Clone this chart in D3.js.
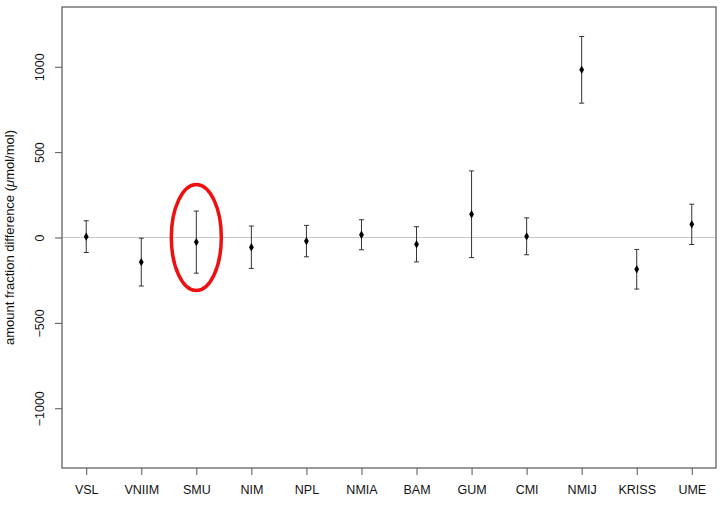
<!DOCTYPE html>
<html><head><meta charset="utf-8">
<script src="https://cdn.jsdelivr.net/npm/d3@7"></script>
<style>body{margin:0;background:#fff;}svg{display:block;font-family:"Liberation Sans",Arial,Helvetica,sans-serif;}</style>
</head><body><div id="chart"></div>
<script>
const labs = ["VSL","VNIIM","SMU","NIM","NPL","NMIA","BAM","GUM","CMI","NMIJ","KRISS","UME"];
const values = [5, -144, -27, -57, -21, 16, -40, 136, 7, 982, -186, 77];
const uncert = [93, 140, 182, 124, 92, 88, 103, 254, 108, 195, 116, 118];
const yTicks = [-1000, -500, 0, 500, 1000];
const highlight = "SMU";

const W = 723, H = 511;
const m = {left: 62, right: 7, top: 7, bottom: 43};
const svg = d3.select("#chart").append("svg").attr("width", W).attr("height", H);

const x = d3.scaleLinear().domain([0.56, 12.44]).range([m.left, W - m.right]);
const y = d3.scaleLinear().domain([-1350, 1350]).range([H - m.bottom, m.top]);

// zero reference line
svg.append("line").attr("x1", x(0.56)).attr("x2", x(12.44)).attr("y1", y(0)).attr("y2", y(0))
  .attr("stroke", "#c8c8c8").attr("stroke-width", 1.2);

// box
svg.append("rect").attr("x", m.left).attr("y", m.top)
  .attr("width", W - m.right - m.left).attr("height", H - m.bottom - m.top)
  .attr("fill", "none").attr("stroke", "#555").attr("stroke-width", 1.2);

// y axis
const yAxis = d3.axisLeft(y).tickValues(yTicks).tickSize(7).tickPadding(0).tickFormat(d => d < 0 ? "\u2212" + Math.abs(d) : d);
const gy = svg.append("g").attr("transform", `translate(${m.left},0)`).call(yAxis);
gy.select(".domain").remove();
gy.selectAll(".tick line").attr("stroke", "#555");
gy.selectAll(".tick text").attr("x", 0).attr("y", 0)
  .attr("transform", "translate(-22,0) rotate(-90)")
  .attr("text-anchor", "middle").attr("dy", "0.35em")
  .attr("font-size", 12.5).attr("fill", "#111").attr("font-family", "Liberation Sans, Arial, sans-serif");

// x axis
const xAxis = d3.axisBottom(x).tickValues(d3.range(1, labs.length + 1)).tickSize(7).tickPadding(10)
  .tickFormat(d => labs[d - 1]);
const gx = svg.append("g").attr("transform", `translate(0,${H - m.bottom})`).call(xAxis);
gx.select(".domain").remove();
gx.selectAll(".tick line").attr("stroke", "#555");
gx.selectAll(".tick text").attr("font-size", 12.5).attr("fill", "#111").attr("font-family", "Liberation Sans, Arial, sans-serif");

// y label
const yl = svg.append("text").attr("transform", `translate(14,${y(0)}) rotate(-90)`)
  .attr("text-anchor", "middle").attr("font-size", 13).attr("fill", "#111");
yl.append("tspan").text("amount fraction difference (");
yl.append("tspan").attr("font-style", "italic").text("\u03bc");
yl.append("tspan").text("mol/mol)");

// error bars
const data = labs.map((l, i) => ({lab: l, i: i + 1, v: values[i], u: uncert[i]}));
const g = svg.append("g");
data.forEach(d => {
  const cx = x(d.i);
  g.append("line").attr("x1", cx).attr("x2", cx).attr("y1", y(d.v + d.u)).attr("y2", y(d.v - d.u))
    .attr("stroke", "#333").attr("stroke-width", 1);
  [d.v + d.u, d.v - d.u].forEach(e => {
    g.append("line").attr("x1", cx - 2.5).attr("x2", cx + 2.5).attr("y1", y(e)).attr("y2", y(e))
      .attr("stroke", "#333").attr("stroke-width", 1);
  });
  g.append("path").attr("transform", `translate(${cx},${y(d.v)})`)
    .attr("d", d3.symbol().type(d3.symbolDiamond).size(20)()).attr("fill", "#000");
});

// highlight ellipse
const hi = labs.indexOf(highlight) + 1;
svg.append("ellipse").attr("cx", x(hi)).attr("cy", y(0)).attr("rx", 25).attr("ry", 53)
  .attr("fill", "none").attr("stroke", "#ee1111").attr("stroke-width", 3.5);
</script></body></html>
